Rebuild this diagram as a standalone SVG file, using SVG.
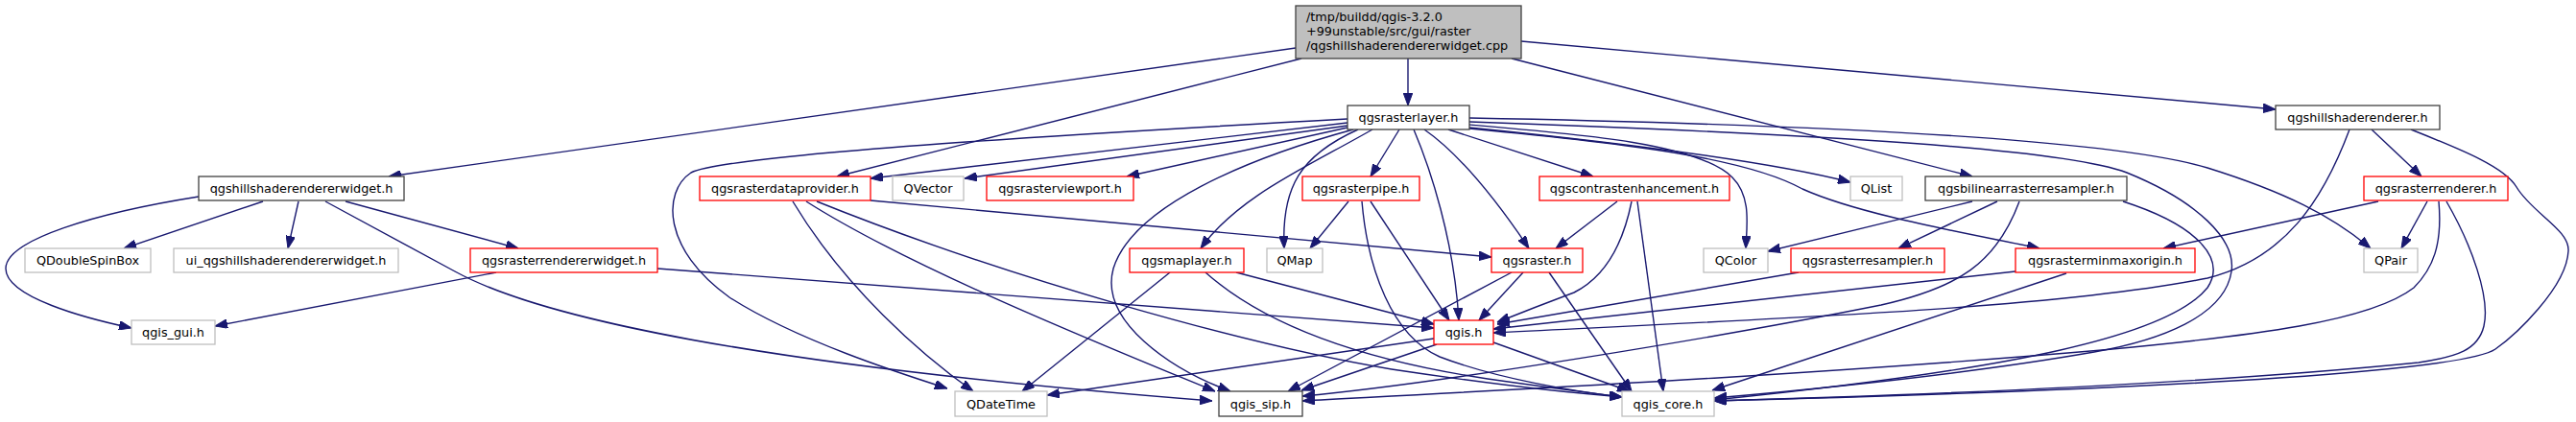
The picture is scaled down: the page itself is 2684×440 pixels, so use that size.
<svg xmlns="http://www.w3.org/2000/svg" width="2684" height="440" viewBox="0 0 2684 440">
<style>
.n rect{fill:#ffffff;stroke-width:1.3}
.b rect{stroke:#404040}
.r rect{stroke:#ff0000}
.g rect{stroke:#bfbfbf}
.top rect{fill:#bfbfbf;stroke:#404040}
text{font-family:"DejaVu Sans","Liberation Sans",sans-serif;font-size:12.8px;fill:#000000}
.n text{text-anchor:middle}
.top text{text-anchor:start}
#edges path{fill:none;stroke:#191970;stroke-width:1.4;marker-end:url(#ah)}
</style>
<defs>
<marker id="ah" viewBox="0 0 13 9.6" refX="13" refY="4.8" markerWidth="13" markerHeight="9.6" markerUnits="userSpaceOnUse" orient="auto">
<path d="M0,0 L13,4.8 L0,9.6 Z" fill="#191970" stroke="#191970" stroke-width="1"/>
</marker>
</defs>
<rect width="2684" height="440" fill="#ffffff"/>
<g id="edges">
<path d="M1350,50 L405,184"/>
<path d="M1356,61 L872,184"/>
<path d="M1467,61 L1467,110"/>
<path d="M1575,61 L2055,184"/>
<path d="M1585,43 L2371,114"/>
<path d="M1404,128 L907,186"/>
<path d="M1404,131 L1005,186"/>
<path d="M1404,133 L1174,184"/>
<path d="M1404,124 C1150,138 760,160 720,180 C690,200 690,260 760,310 C830,355 940,390 987,405"/>
<path d="M1458,135 L1428,184"/>
<path d="M1415,135 C1355,162 1335,195 1338,259"/>
<path d="M1473,135 C1490,175 1515,250 1520,334"/>
<path d="M1484,135 C1520,160 1560,210 1593,259"/>
<path d="M1509,135 L1660,184"/>
<path d="M1531,130 C1650,140 1770,150 1805,185 C1825,205 1820,235 1819,259"/>
<path d="M1531,133 C1700,150 1850,170 1928,190"/>
<path d="M1531,134 C1700,150 1820,165 1878,197 C1940,225 2060,245 2125,259"/>
<path d="M1531,123 C1900,130 2200,145 2300,175 C2380,200 2430,225 2470,259"/>
<path d="M1531,127 C1900,140 2150,155 2216,180 C2290,210 2330,250 2325,283 C2318,330 2250,355 2182,367 C2050,390 1900,405 1786,415"/>
<path d="M1410,135 C1300,165 1180,215 1160,280 C1145,335 1220,385 1282,408"/>
<path d="M1430,135 C1360,175 1290,205 1251,259"/>
<path d="M907,209 L1554,268"/>
<path d="M826,210 C880,300 960,370 1014,408"/>
<path d="M840,210 C950,280 1150,360 1266,408"/>
<path d="M851,210 C1050,290 1300,360 1450,385 C1550,400 1640,410 1690,414"/>
<path d="M274,210 L129,259"/>
<path d="M311,210 L300,259"/>
<path d="M360,210 L540,259"/>
<path d="M207,205 C100,222 6,250 6,280 C6,310 90,332 137,342"/>
<path d="M339,210 L474,283 C560,330 780,380 1263,418"/>
<path d="M517,284 L224,340"/>
<path d="M685,280 L1494,342"/>
<path d="M1219,284 L1065,408"/>
<path d="M1288,284 L1494,338"/>
<path d="M1256,284 C1330,350 1450,380 1550,395 C1620,405 1660,410 1690,414"/>
<path d="M1405,210 L1365,259"/>
<path d="M1428,210 L1510,334"/>
<path d="M1419,210 C1425,280 1450,350 1500,372 C1560,395 1640,408 1690,414"/>
<path d="M1685,210 L1621,259"/>
<path d="M1700,210 C1690,260 1670,290 1640,305 C1600,320 1575,330 1560,336"/>
<path d="M1706,210 L1733,408"/>
<path d="M1587,284 L1541,334"/>
<path d="M1575,284 L1342,408"/>
<path d="M1614,284 L1700,408"/>
<path d="M1494,353 L1091,412"/>
<path d="M1497,359 L1356,407"/>
<path d="M1556,357 L1698,408"/>
<path d="M2055,210 L1842,262"/>
<path d="M2081,210 L1978,259"/>
<path d="M2104,210 C2080,275 2040,300 1960,318 C1800,350 1500,400 1357,413"/>
<path d="M2212,210 C2290,235 2320,270 2300,300 C2260,350 2100,385 1786,417"/>
<path d="M1874,284 L1560,338"/>
<path d="M2100,283 L1556,343"/>
<path d="M2153,285 L1784,407"/>
<path d="M2471,135 L2523,184"/>
<path d="M2448,135 C2420,210 2380,270 2300,290 C2150,320 1900,330 1556,347"/>
<path d="M2512,135 C2570,158 2610,175 2622,195 C2638,222 2678,240 2676,262 C2674,300 2620,350 2600,364 C2570,385 2300,405 1786,418"/>
<path d="M2478,210 L2254,259"/>
<path d="M2529,210 L2502,259"/>
<path d="M2541,210 C2545,255 2535,280 2515,300 C2470,335 2350,350 2190,365 C1900,390 1600,405 1357,418"/>
<path d="M2549,210 C2575,255 2595,310 2588,340 C2582,365 2560,372 2520,378 C2300,400 2000,412 1786,418"/>
</g>
<g id="n_cpp" class="n top"><rect x="1350" y="6" width="235" height="55"/><text x="1361" y="22">/tmp/buildd/qgis-3.2.0</text><text x="1361" y="37">+99unstable/src/gui/raster</text><text x="1361" y="52">/qgshillshaderendererwidget.cpp</text></g>
<g id="n_layer" class="n b"><rect x="1404" y="110" width="127" height="25"/><text x="1467.5" y="127">qgsrasterlayer.h</text></g>
<g id="n_hsr" class="n b"><rect x="2371" y="110" width="171" height="25"/><text x="2456.5" y="127">qgshillshaderenderer.h</text></g>
<g id="n_hsrw" class="n b"><rect x="207" y="184" width="214" height="25"/><text x="314" y="201">qgshillshaderendererwidget.h</text></g>
<g id="n_dp" class="n r"><rect x="729" y="184" width="178" height="25"/><text x="818" y="201">qgsrasterdataprovider.h</text></g>
<g id="n_qvector" class="n g"><rect x="930" y="184" width="74" height="25"/><text x="967" y="201">QVector</text></g>
<g id="n_vp" class="n r"><rect x="1028" y="184" width="153" height="25"/><text x="1104.5" y="201">qgsrasterviewport.h</text></g>
<g id="n_pipe" class="n r"><rect x="1357" y="184" width="122" height="25"/><text x="1418" y="201">qgsrasterpipe.h</text></g>
<g id="n_ce" class="n r"><rect x="1604" y="184" width="198" height="25"/><text x="1703" y="201">qgscontrastenhancement.h</text></g>
<g id="n_qlist" class="n g"><rect x="1928" y="184" width="54" height="25"/><text x="1955" y="201">QList</text></g>
<g id="n_bil" class="n b"><rect x="2006" y="184" width="210" height="25"/><text x="2111" y="201">qgsbilinearrasterresampler.h</text></g>
<g id="n_rr" class="n r"><rect x="2463" y="184" width="150" height="25"/><text x="2538" y="201">qgsrasterrenderer.h</text></g>
<g id="n_qdsb" class="n g"><rect x="26" y="259" width="131" height="25"/><text x="91.5" y="276">QDoubleSpinBox</text></g>
<g id="n_ui" class="n g"><rect x="181" y="259" width="234" height="25"/><text x="298" y="276">ui_qgshillshaderendererwidget.h</text></g>
<g id="n_rrw" class="n r"><rect x="490" y="259" width="195" height="25"/><text x="587.5" y="276">qgsrasterrendererwidget.h</text></g>
<g id="n_ml" class="n r"><rect x="1177" y="259" width="119" height="25"/><text x="1236.5" y="276">qgsmaplayer.h</text></g>
<g id="n_qmap" class="n g"><rect x="1320" y="259" width="58" height="25"/><text x="1349" y="276">QMap</text></g>
<g id="n_raster" class="n r"><rect x="1554" y="259" width="95" height="25"/><text x="1601.5" y="276">qgsraster.h</text></g>
<g id="n_qcolor" class="n g"><rect x="1775" y="259" width="67" height="25"/><text x="1808.5" y="276">QColor</text></g>
<g id="n_rs" class="n r"><rect x="1866" y="259" width="160" height="25"/><text x="1946" y="276">qgsrasterresampler.h</text></g>
<g id="n_mm" class="n r"><rect x="2100" y="259" width="187" height="25"/><text x="2193.5" y="276">qgsrasterminmaxorigin.h</text></g>
<g id="n_qpair" class="n g"><rect x="2463" y="259" width="56" height="25"/><text x="2491" y="276">QPair</text></g>
<g id="n_gui" class="n g"><rect x="137" y="334" width="87" height="25"/><text x="180.5" y="351">qgis_gui.h</text></g>
<g id="n_qgis" class="n r"><rect x="1494" y="334" width="62" height="25"/><text x="1525" y="351">qgis.h</text></g>
<g id="n_qdt" class="n g"><rect x="995" y="408" width="96" height="26"/><text x="1043" y="425.5">QDateTime</text></g>
<g id="n_sip" class="n b"><rect x="1270" y="408" width="87" height="26"/><text x="1313.5" y="425.5">qgis_sip.h</text></g>
<g id="n_core" class="n g"><rect x="1690" y="408" width="96" height="26"/><text x="1738" y="425.5">qgis_core.h</text></g>
</svg>
